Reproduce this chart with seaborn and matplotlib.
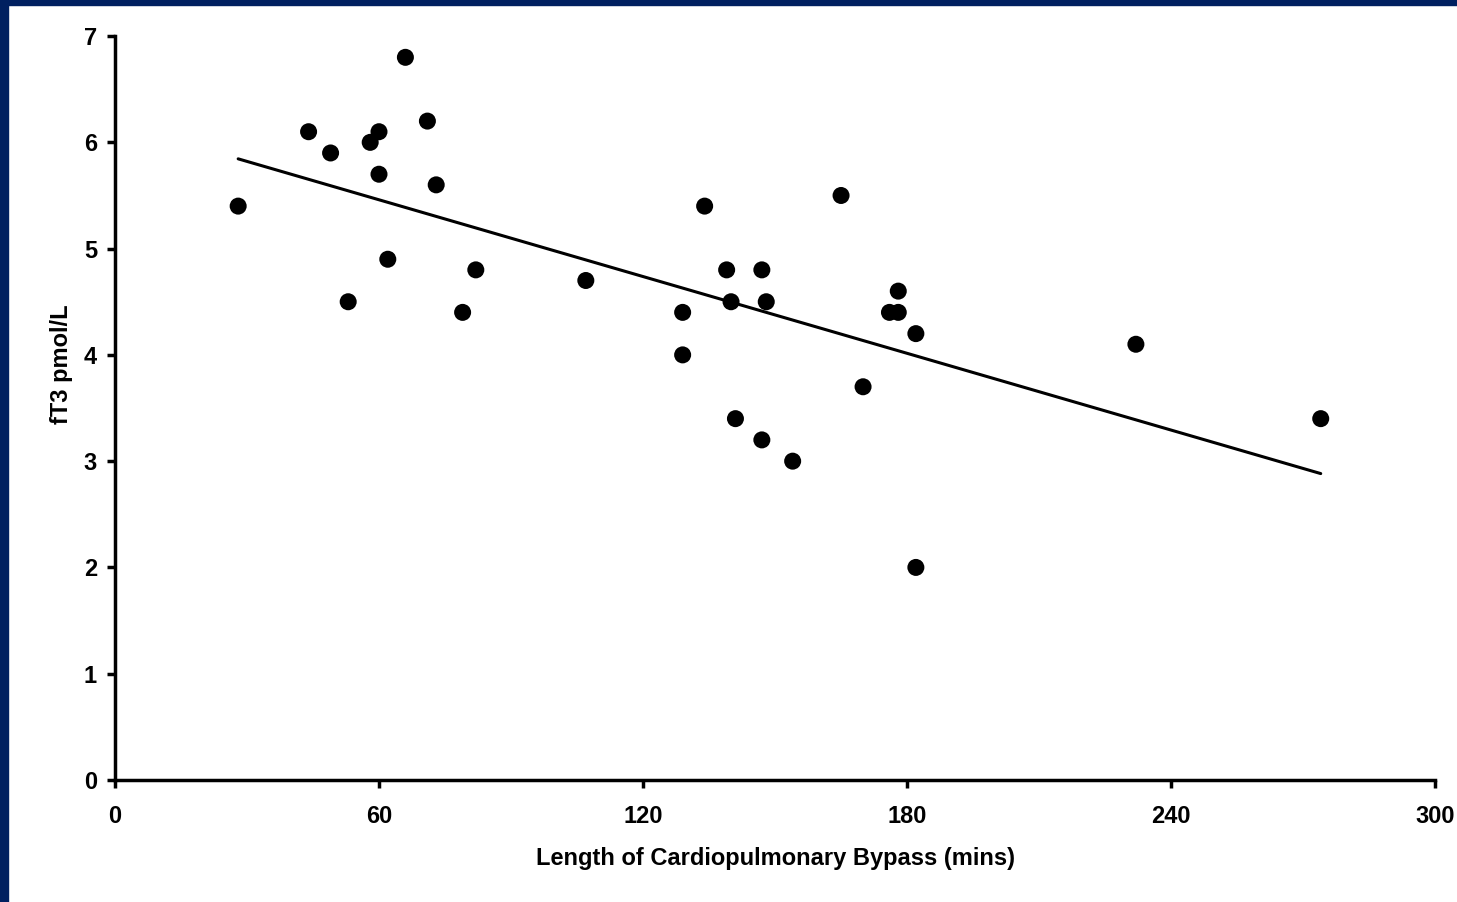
import matplotlib
matplotlib.use('Agg')
import matplotlib.pyplot as plt
import seaborn as sns
import pandas as pd

# Length of bypass (mins) and fT3 (pmol/L)
bypass_mins = [28, 44, 49, 53, 58, 60, 60, 62, 66, 71, 73, 79, 82, 107,
               129, 129, 134, 139, 140, 141, 147, 148, 147, 154, 165, 170,
               176, 178, 178, 182, 182, 232, 274]
ft3 = [5.4, 6.1, 5.9, 4.5, 6.0, 6.1, 5.7, 4.9, 6.8, 6.2, 5.6, 4.4, 4.8, 4.7,
       4.4, 4.0, 5.4, 4.8, 4.5, 3.4, 4.8, 4.5, 3.2, 3.0, 5.5, 3.7,
       4.4, 4.4, 4.6, 4.2, 2.0, 4.1, 3.4]

x_ticks = [0, 60, 120, 180, 240, 300]
y_ticks = [0, 1, 2, 3, 4, 5, 6, 7]

df = pd.DataFrame({'mins': bypass_mins, 'ft3': ft3})

sns.set_style('white')
plt.rcParams['font.family'] = ['Liberation Sans', 'DejaVu Sans']
plt.rcParams['font.weight'] = 'bold'
plt.rcParams['text.color'] = 'black'
plt.rcParams['axes.labelcolor'] = 'black'
plt.rcParams['xtick.color'] = 'black'
plt.rcParams['ytick.color'] = 'black'

fig = plt.figure(figsize=(14.57, 9.02), dpi=100)
ax = fig.add_axes([0.0789, 0.1353, 0.9061, 0.8247])

sns.regplot(data=df, x='mins', y='ft3', ci=None, truncate=True, ax=ax,
            scatter_kws={'s': 150, 'color': 'black', 'edgecolor': 'none', 'alpha': 1},
            line_kws={'color': 'black', 'linewidth': 2.2})

ax.set_xlim(0, 300)
ax.set_ylim(0, 7)
ax.set_xticks(x_ticks)
ax.set_yticks(y_ticks)
ax.tick_params(axis='both', direction='out', length=6, width=2.5,
               labelsize=17, left=True, bottom=True)
ax.tick_params(axis='x', pad=12)
ax.tick_params(axis='y', pad=7)
for lab in ax.get_xticklabels() + ax.get_yticklabels():
    lab.set_fontweight('bold')
ax.set_xlabel('Length of Cardiopulmonary Bypass (mins)', fontsize=17,
              fontweight='bold')
ax.set_ylabel('fT3 pmol/L', fontsize=17, fontweight='bold')
ax.xaxis.set_label_coords(0.5, -0.09)
ax.yaxis.set_label_coords(-0.032, 0.559)

sns.despine(ax=ax)
for side in ['left', 'bottom']:
    ax.spines[side].set_linewidth(2.5)
    ax.spines[side].set_color('black')
for c in ax.collections:
    c.set_clip_on(False)

# navy frame along the top and left edge
navy = '#002060'
fig.patches.append(plt.Rectangle((0, 1 - 5 / 902), 1, 5 / 902,
                                 transform=fig.transFigure, color=navy, zorder=0))
fig.patches.append(plt.Rectangle((0, 0), 8 / 1457, 1,
                                 transform=fig.transFigure, color=navy, zorder=0))

fig.savefig('out.png', dpi=100)
